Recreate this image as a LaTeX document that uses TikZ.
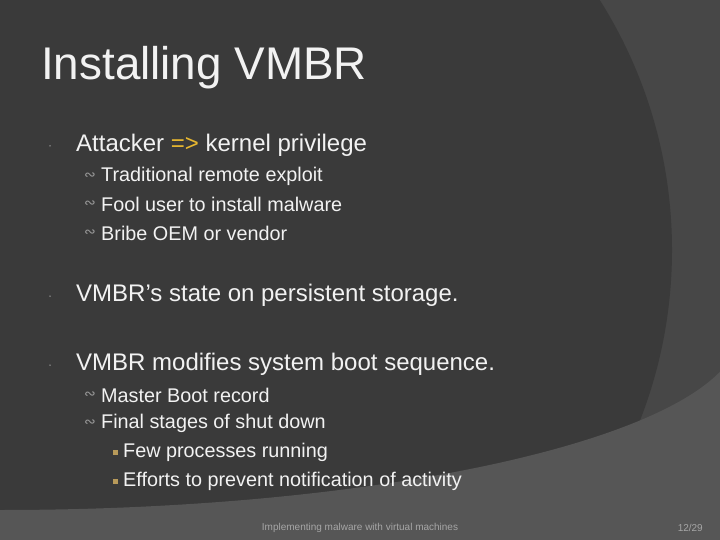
\documentclass[tikz,border=0pt]{standalone}
\usepackage{fontspec}
\setmainfont{Liberation Sans}
\newfontfamily\dejavu{DejaVu Sans}
\definecolor{bgmid}{HTML}{474747}
\definecolor{bgdark}{HTML}{3A3A3A}
\definecolor{bglight}{HTML}{565656}
\definecolor{txt}{HTML}{F2F2F2}
\definecolor{gold}{HTML}{E8B830}
\definecolor{sqc}{HTML}{B89A5A}
\begin{document}
\begin{tikzpicture}[x=1pt,y=-1pt,
  ttl/.style={anchor=west,inner sep=0,text=txt,font=\fontsize{45.8}{50}\selectfont},
  lone/.style={anchor=west,inner sep=0,text=txt,font=\fontsize{24}{28}\selectfont},
  ltwo/.style={anchor=west,inner sep=0,text=txt,font=\fontsize{19.8}{23}\selectfont},
  bone/.style={fill=gray!70,circle,inner sep=0,minimum size=1.5pt},
  btwo/.style={anchor=west,inner sep=0,text=gray!80,font=\dejavu\fontsize{14}{16}\selectfont},
  bthree/.style={fill=sqc,inner sep=0,minimum size=5pt},
  foot/.style={inner sep=0,text=gray!70,font=\fontsize{10}{12}\selectfont}]
\useasboundingbox (0,0) rectangle (720,540);
\fill[bgmid] (0,0) rectangle (720,540);
\fill[bgdark] (200,250) ellipse [x radius=472, y radius=470];
\begin{scope}
\clip (0,342) rectangle (720,540);
\fill[bglight,even odd rule] (-10,0) rectangle (730,550) (0,330) ellipse [x radius=740, y radius=180];
\end{scope}
\node[ttl] (title) at (41,68) {Installing VMBR};
\node[bone] (b1) at (50,146) {};
\node[lone] (t1) at (76,145) {Attacker \textcolor{gold}{=>} kernel privilege};
\node[btwo] (b11) at (84,176) {∾};
\node[ltwo] (t11) at (101,176) {Traditional remote exploit};
\node[btwo] (b12) at (84,204) {∾};
\node[ltwo] (t12) at (101,204) {Fool user to install malware};
\node[btwo] (b13) at (84,233) {∾};
\node[ltwo] (t13) at (101,233) {Bribe OEM or vendor};
\node[bone] (b2) at (50,296) {};
\node[lone] (t2) at (76,295) {VMBR’s state on persistent storage.};
\node[bone] (b3) at (50,365) {};
\node[lone] (t3) at (76,364) {VMBR modifies system boot sequence.};
\node[btwo] (b31) at (84,395) {∾};
\node[ltwo] (t31) at (101,395) {Master Boot record};
\node[btwo] (b32) at (84,423) {∾};
\node[ltwo] (t32) at (101,423) {Final stages of shut down};
\node[bthree] (b321) at (115,452) {};
\node[ltwo] (t321) at (123,452) {Few processes running};
\node[bthree] (b322) at (115,481) {};
\node[ltwo] (t322) at (123,481) {Efforts to prevent notification of activity};
\node[foot] (f1) at (360,528) {Implementing malware with virtual machines};
\node[foot,anchor=east] (f2) at (703,528) {12/29};
\end{tikzpicture}
\end{document}
